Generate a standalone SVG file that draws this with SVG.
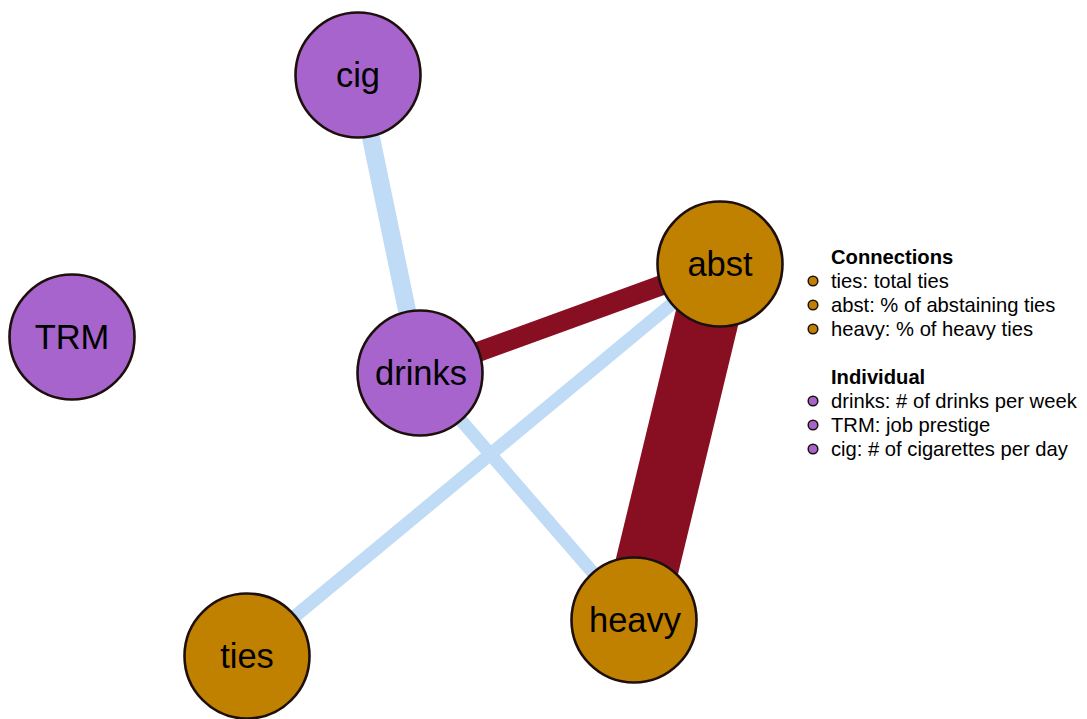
<svg xmlns="http://www.w3.org/2000/svg" width="1087" height="719" viewBox="0 0 1087 719">
<style>
.pos{stroke:#BFDBF6;stroke-linecap:butt;fill:none}
.neg{stroke:#880F22;stroke-linecap:butt;fill:none}
.ind{fill:#A664CC;stroke:#1C0F0C;stroke-width:2.6}
.con{fill:#C08000;stroke:#1C0F0C;stroke-width:2.6}
.lbl{font-family:"Liberation Sans",Arial,sans-serif;font-size:34.5px;fill:#000;text-anchor:middle}
.leg{font-family:"Liberation Sans",Arial,sans-serif;font-size:20.2px;fill:#000}
.legh{font-family:"Liberation Sans",Arial,sans-serif;font-size:20.2px;font-weight:bold;fill:#000}
.dotc{fill:#C08000;stroke:#1C0F0C;stroke-width:1.5}
.doti{fill:#A664CC;stroke:#1C0F0C;stroke-width:1.5}
</style>
<rect width="1087" height="719" fill="#fff"/>
<g id="connectors">
<line class="pos" x1="358" y1="75" x2="420" y2="373" stroke-width="18"/>
<line class="pos" x1="420" y1="373" x2="634" y2="620" stroke-width="13"/>
<line class="pos" x1="720" y1="264" x2="247" y2="656" stroke-width="13"/>
<line class="neg" x1="420" y1="373" x2="720" y2="264" stroke-width="20"/>
<line class="neg" x1="720" y1="264" x2="634" y2="620" stroke-width="64"/>
</g>
<g id="node-cig"><circle class="ind" cx="358" cy="75" r="62.5"/><text class="lbl" x="358" y="87">cig</text></g>
<g id="node-TRM"><circle class="ind" cx="72" cy="337" r="62.5"/><text class="lbl" x="72" y="349">TRM</text></g>
<g id="node-drinks"><circle class="ind" cx="420" cy="373" r="62.5"/><text class="lbl" x="421" y="385">drinks</text></g>
<g id="node-abst"><circle class="con" cx="720" cy="264" r="62.5"/><text class="lbl" x="720" y="276">abst</text></g>
<g id="node-ties"><circle class="con" cx="247" cy="656" r="62.5"/><text class="lbl" x="247" y="668">ties</text></g>
<g id="node-heavy"><circle class="con" cx="634" cy="620" r="62.5"/><text class="lbl" x="635" y="632">heavy</text></g>
<g id="legend">
<text class="legh" x="831" y="264">Connections</text>
<circle class="dotc" cx="813" cy="281" r="4.8"/><text class="leg" x="831" y="288">ties: total ties</text>
<circle class="dotc" cx="813" cy="305" r="4.8"/><text class="leg" x="831" y="312">abst: % of abstaining ties</text>
<circle class="dotc" cx="813" cy="329" r="4.8"/><text class="leg" x="831" y="336">heavy: % of heavy ties</text>
<text class="legh" x="831" y="384">Individual</text>
<circle class="doti" cx="813" cy="401" r="4.8"/><text class="leg" x="831" y="408">drinks: # of drinks per week</text>
<circle class="doti" cx="813" cy="425" r="4.8"/><text class="leg" x="831" y="432">TRM: job prestige</text>
<circle class="doti" cx="813" cy="449" r="4.8"/><text class="leg" x="831" y="456">cig: # of cigarettes per day</text>
</g>
</svg>
